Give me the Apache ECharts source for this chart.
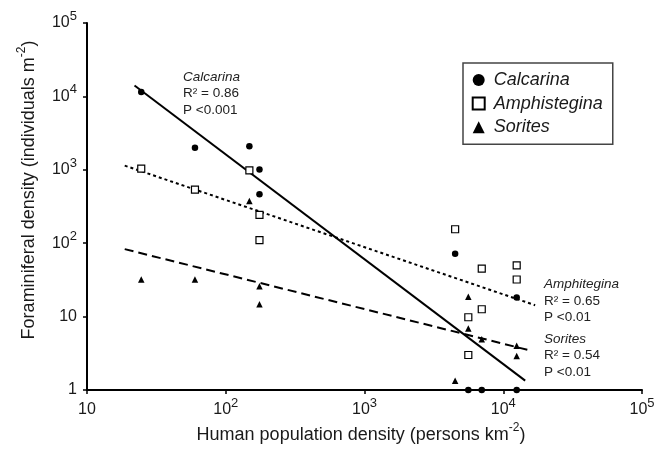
<!DOCTYPE html>
<html>
<head>
<meta charset="utf-8">
<script src="https://cdn.jsdelivr.net/npm/echarts@6/dist/echarts.min.js"></script>
<style>
  html, body { margin: 0; padding: 0; background: #fff; }
  #chart { width: 658px; height: 455px; }
</style>
</head>
<body>
<div id="chart"></div>
<script>
// Site population densities (persons km^-2) and foraminiferal densities (individuals m^-2)
const calcarinaX = [24.6, 60, 148, 175, 175, 4500, 12500, 5600, 7000, 12500];
const calcarinaY = [11440, 2000, 2090, 1006, 464, 72, 18.2, 1, 1, 1];

const amphisteginaX = [24.6, 60, 148, 175, 175, 4500, 7000, 12500, 12500, 7000, 5600, 5600];
const amphisteginaY = [1038, 538, 985, 243, 110, 155, 45, 50, 32, 12.6, 9.8, 3.0];

const soritesX = [24.6, 60, 148, 175, 175, 5600, 5600, 7000, 12500, 12500, 4500];
const soritesY = [32, 32, 376, 26, 14.7, 18.6, 6.9, 4.9, 4.0, 2.9, 1.34];

// Log-log regression lines (end points)
const calcarinaFitX = [22, 14390];
const calcarinaFitY = [14100, 1.34];
const amphisteginaFitX = [18.7, 16980];
const amphisteginaFitY = [1140, 14.3];
const soritesFitX = [18.7, 15200];
const soritesFitY = [83, 3.5];

// Tick labels: [base, exponent]
const xTickLabels = [['10', ''], ['10', '2'], ['10', '3'], ['10', '4'], ['10', '5']];
const yTickLabels = [['1', ''], ['10', ''], ['10', '2'], ['10', '3'], ['10', '4'], ['10', '5']];

const FONT = '"Liberation Sans", Arial, sans-serif';
const INK = '#1a1a1a';

const pairs = (xs, ys) => xs.map((x, i) => [x, ys[i]]);

const tickRich = {
  b: { fontSize: 16, lineHeight: 26, fontFamily: FONT, color: INK },
  s: { fontSize: 13, lineHeight: 13, verticalAlign: 'top', fontFamily: FONT, color: INK }
};
const tickFormatter = (labels, offset) => v => {
  const k = Math.round(Math.log10(v)) - offset;
  const item = labels[k];
  if (!item) return '';
  return item[1] ? `{b|${item[0]}}{s|${item[1]}}` : `{b|${item[0]}}`;
};

const axisCommon = {
  type: 'log',
  logBase: 10,
  max: 100000,
  axisLine: { show: true, onZero: false, lineStyle: { color: '#000', width: 2 } },
  axisTick: { show: true, inside: false, length: 4, lineStyle: { color: '#000', width: 1.5 } },
  minorTick: { show: false },
  splitLine: { show: false }
};

const annoRich = {
  i: { fontSize: 13.5, fontStyle: 'italic', lineHeight: 16.5, fontFamily: FONT, fill: '#222', color: '#222' },
  n: { fontSize: 13.5, lineHeight: 16.5, fontFamily: FONT, fill: '#222', color: '#222' }
};
const nameRich = {
  n: { fontSize: 18, lineHeight: 26, fontFamily: FONT, fill: INK, color: INK },
  s: { fontSize: 12, lineHeight: 12, verticalAlign: 'top', fontFamily: FONT, fill: INK, color: INK }
};

const chart = echarts.init(document.getElementById('chart'), null, { renderer: 'canvas' });

chart.setOption({
  backgroundColor: '#fff',
  animation: false,
  textStyle: { fontFamily: FONT },
  grid: { left: 87, right: 16, top: 23, bottom: 65, containLabel: false },
  xAxis: Object.assign({}, axisCommon, {
    min: 10,
    axisLabel: { margin: 7, formatter: tickFormatter(xTickLabels, 1), rich: tickRich }
  }),
  yAxis: Object.assign({}, axisCommon, {
    min: 1,
    axisLabel: { margin: 10, formatter: tickFormatter(yTickLabels, 0), rich: tickRich }
  }),
  legend: {
    orient: 'vertical',
    left: 463,
    top: 63,
    data: ['Calcarina', 'Amphistegina', 'Sorites'],
    itemWidth: 12,
    itemHeight: 12,
    itemGap: 5.6,
    padding: [8, 10, 8, 8.7],
    borderColor: '#444',
    borderWidth: 1.5,
    selectedMode: false,
    textStyle: { fontSize: 18, fontStyle: 'italic', lineHeight: 18, color: INK, fontFamily: FONT, padding: [0, 0, 0, 4] }
  },
  graphic: [
    {
      type: 'text', left: 183, top: 70,
      style: { text: '{i|Calcarina}\n{n|R² = 0.86}\n{n|P <0.001}', rich: annoRich, fill: '#222' }
    },
    {
      type: 'text', left: 544, top: 277.5,
      style: { text: '{i|Amphitegina}\n{n|R² = 0.65}\n{n|P <0.01}', rich: annoRich, fill: '#222' }
    },
    {
      type: 'text', left: 544, top: 332,
      style: { text: '{i|Sorites}\n{n|R² = 0.54}\n{n|P <0.01}', rich: annoRich, fill: '#222' }
    },
    {
      type: 'text', x: 361, y: 435,
      style: {
        text: '{n|Human population density (persons km}{s|-2}{n|)}',
        rich: nameRich, align: 'center', verticalAlign: 'middle',
        textAlign: 'center', textVerticalAlign: 'middle', fill: INK
      }
    },
    {
      type: 'text', x: 29, y: 190, rotation: Math.PI / 2,
      style: {
        text: '{n|Foraminiferal density (individuals m}{s|-2}{n|)}',
        rich: nameRich, align: 'center', verticalAlign: 'middle',
        textAlign: 'center', textVerticalAlign: 'middle', fill: INK
      }
    }
  ],
  series: [
    {
      type: 'line', name: 'Calcarina fit', data: pairs(calcarinaFitX, calcarinaFitY),
      symbol: 'none', silent: true, z: 2,
      lineStyle: { color: '#000', width: 2, type: 'solid' }
    },
    {
      type: 'line', name: 'Amphistegina fit', data: pairs(amphisteginaFitX, amphisteginaFitY),
      symbol: 'none', silent: true, z: 2,
      lineStyle: { color: '#000', width: 2, type: [3, 3] }
    },
    {
      type: 'line', name: 'Sorites fit', data: pairs(soritesFitX, soritesFitY),
      symbol: 'none', silent: true, z: 2,
      lineStyle: { color: '#000', width: 2, type: [9, 5] }
    },
    {
      type: 'scatter', name: 'Calcarina', data: pairs(calcarinaX, calcarinaY),
      symbol: 'circle', symbolSize: 6.5, z: 5,
      itemStyle: { color: '#000', opacity: 1 }
    },
    {
      type: 'scatter', name: 'Amphistegina', data: pairs(amphisteginaX, amphisteginaY),
      symbol: 'rect', symbolSize: 7, z: 5,
      itemStyle: { color: '#fff', borderColor: '#000', borderWidth: 1.2, opacity: 1 }
    },
    {
      type: 'scatter', name: 'Sorites', data: pairs(soritesX, soritesY),
      symbol: 'triangle', symbolSize: 6.5, z: 5,
      itemStyle: { color: '#000', opacity: 1 }
    }
  ]
});
</script>
</body>
</html>
